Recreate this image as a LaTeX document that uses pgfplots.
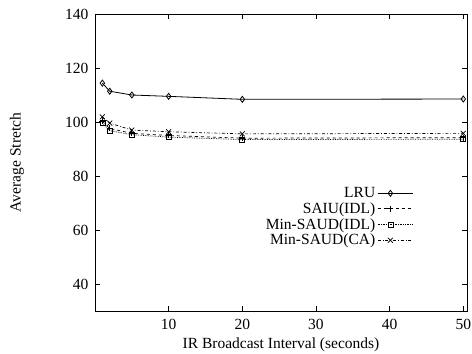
\documentclass[border=0pt]{standalone}
\usepackage{fontspec}
\setmainfont{Liberation Serif}
\usepackage{pgfplots}
\pgfplotsset{compat=1.18}
\begin{document}
\begin{tikzpicture}
\begin{axis}[
  scale only axis,
  width=372pt, height=297pt,
  xmin=0, xmax=50.5, ymin=30, ymax=140,
  xtick={10,20,30,40,50},
  ytick={40,60,80,100,120,140},
  tick align=inside,
  tick style={black, line width=0.8pt},
  major tick length=5pt,
  axis line style={line width=0.9pt},
  /pgf/number format/assume math mode=true,
  tick label style={font=\fontsize{15.5}{17}\selectfont},
  xticklabel style={yshift=-5pt},
  yticklabel style={xshift=-3pt},
  label style={font=\fontsize{15.5}{17}\selectfont},
  xlabel={IR Broadcast Interval (seconds)},
  ylabel={Average Stretch},
  xlabel style={at={(axis description cs:0.5,-0.115)}, anchor=center},
  ylabel style={at={(axis description cs:-0.21,0.5)}, anchor=center},
  legend style={draw=none, fill=none, at={(0.865,0.43)}, anchor=north east,
    font=\fontsize{15.5}{17}\selectfont, cells={anchor=east}, row sep=-0.5pt},
  legend plot pos=right,
  legend image code/.code={\draw[mark repeat=2,mark phase=2] plot coordinates {(0cm,0cm) (0.45cm,0cm) (1.25cm,0cm)};},
]
\addplot[black, line width=0.8pt, mark=diamond, mark size=3pt, mark options={solid}] coordinates {
(1,114.4) (2,111.4) (5,110) (10,109.5) (20,108.4) (50,108.5)};
\addlegendentry{LRU}
\addplot[black, line width=0.7pt, dashed, mark=+, mark size=3pt, mark options={solid}] coordinates {
(1,100.3) (2,97.6) (5,95.8) (10,95.0) (20,94.0) (50,94.2)};
\addlegendentry{SAIU(IDL)}
\addplot[black, line width=0.7pt, densely dotted, mark=square, mark size=2.5pt, mark options={solid}] coordinates {
(1,99.5) (2,96.8) (5,95.3) (10,94.4) (20,93.5) (50,93.6)};
\addlegendentry{Min-SAUD(IDL)}
\addplot[black, line width=0.7pt, dash dot, mark=x, mark size=3.5pt, mark options={solid}] coordinates {
(1,101.9) (2,99.6) (5,97) (10,96.4) (20,95.6) (50,95.8)};
\addlegendentry{Min-SAUD(CA)}
\end{axis}
\pgfresetboundingbox
\path ([xshift=-95pt,yshift=-43pt]current axis.south west) rectangle ([xshift=5pt,yshift=14pt]current axis.north east);
\end{tikzpicture}
\end{document}
